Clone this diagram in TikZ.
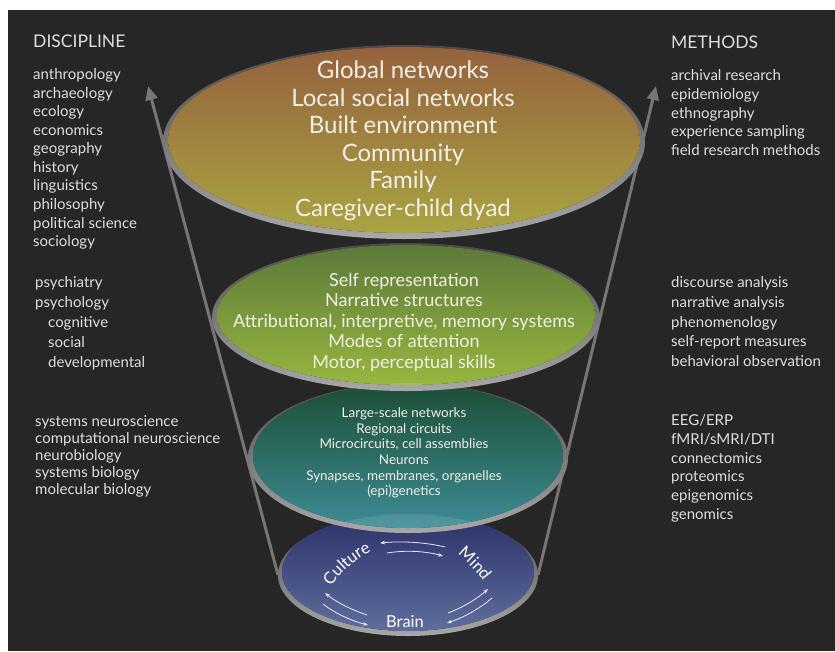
\documentclass[tikz,border=0pt]{standalone}
\usepackage{fontspec}
\setmainfont{Lato}
\usetikzlibrary{arrows.meta,decorations.text}

\definecolor{panel}{HTML}{262626}
\definecolor{label}{HTML}{DEDEDE}
\definecolor{inlabel}{HTML}{F2F0E8}
\definecolor{funnel}{HTML}{7A7575}
\definecolor{rimtop}{HTML}{4A4A4A}
\definecolor{rimbot}{HTML}{A8A8A8}
\definecolor{socA}{HTML}{95623D}
\definecolor{socB}{HTML}{A38A3C}
\definecolor{socC}{HTML}{AAA442}
\definecolor{mindA}{HTML}{5C7A39}
\definecolor{mindB}{HTML}{7E9E3A}
\definecolor{mindC}{HTML}{98B63E}
\definecolor{brainA}{HTML}{1D4E36}
\definecolor{brainB}{HTML}{2B6D5A}
\definecolor{brainC}{HTML}{3E8C96}
\definecolor{coreA}{HTML}{2C3068}
\definecolor{coreB}{HTML}{4A5A8E}
\definecolor{coreC}{HTML}{5E6E9C}

\tikzset{
  heading/.style={text=label, font=\fontsize{17.5}{19}\selectfont, anchor=base west, inner sep=0pt},
  listing/.style={text=label, anchor=north west, inner sep=0pt, align=left},
  levels/.style={text=inlabel, align=center, inner sep=0pt},
  funnelarrow/.style={draw=funnel, line width=3pt, -{Triangle[length=14pt,width=12pt]}},
  rim/.style={even odd rule, top color=rimtop, bottom color=rimbot},
  cycle/.style={draw=white!92!blue, line width=0.8pt, -{Stealth[length=5pt,width=3.6pt]}},
  ringword/.style={text=white, font=\fontsize{16.5}{16.5}\selectfont, inner sep=0pt},
}

\begin{document}
\begin{tikzpicture}[x=1pt,y=-1pt]
\useasboundingbox (0,0) rectangle (835,651);
\fill[white] (0,0) rectangle (835,651);
\fill[panel] (8,10) rectangle (835,651);

% funnel sides
\coordinate (lbase) at (278,575);
\coordinate (ltip)  at (148,86);
\coordinate (rbase) at (538,575);
\coordinate (rtip)  at (656,86);
\draw[funnelarrow] (lbase) -- (ltip);
\draw[funnelarrow] (rbase) -- (rtip);

% bottom disc: brain-mind-culture
\shade[rim] (408,575) ellipse [x radius=130pt, y radius=61pt]
            (408,572) ellipse [x radius=126pt, y radius=59pt];
\shade[top color=coreA, middle color=coreB, bottom color=coreC]
      (408,572) ellipse [x radius=126pt, y radius=59pt];

% neural disc
\shade[rim] (408,458) ellipse [x radius=160pt, y radius=75pt]
            (408,456) ellipse [x radius=155pt, y radius=72pt];
\shade[top color=brainA, middle color=brainB, bottom color=brainC]
      (408,456) ellipse [x radius=155pt, y radius=72pt];
\begin{scope}
  \clip (408,456) ellipse [x radius=155pt, y radius=72pt];
  \fill[white, opacity=0.10] (408,575) ellipse [x radius=130pt, y radius=61pt];
\end{scope}

% psychological disc
\shade[rim] (406,317) ellipse [x radius=194pt, y radius=74pt]
            (406,315) ellipse [x radius=189pt, y radius=70pt];
\shade[top color=mindA, middle color=mindB, bottom color=mindC]
      (406,315) ellipse [x radius=189pt, y radius=70pt];
\begin{scope}
  \clip (406,315) ellipse [x radius=189pt, y radius=70pt];
  \fill[white, opacity=0.10] (408,458) ellipse [x radius=160pt, y radius=75pt];
\end{scope}

% social disc
\shade[rim] (404,142) ellipse [x radius=241pt, y radius=97pt]
            (404,140) ellipse [x radius=236pt, y radius=93pt];
\shade[top color=socA, middle color=socB, bottom color=socC]
      (404,140) ellipse [x radius=236pt, y radius=93pt];
\begin{scope}
  \clip (404,140) ellipse [x radius=236pt, y radius=93pt];
  \fill[white, opacity=0.10] (406,317) ellipse [x radius=194pt, y radius=74pt];
\end{scope}

% level labels
\node[levels, font=\fontsize{24}{27.5}\selectfont] (social) at (403,141)
  {Global networks\\Local social networks\\Built environment\\Community\\Family\\Caregiver-child dyad};
\node[levels, font=\fontsize{18}{20.5}\selectfont] (psych) at (404,322)
  {Self representation\\Narrative structures\\Attributional, interpretive, memory systems\\Modes of attention\\Motor, perceptual skills};
\node[levels, font=\fontsize{13.4}{15.6}\selectfont] (neural) at (404,453)
  {Large-scale networks\\Regional circuits\\Microcircuits, cell assemblies\\Neurons\\Synapses, membranes, organelles\\(epi)genetics};

% culture / mind / brain cycle
\path[decorate, decoration={text along path, text align=center,
      text={|\color{white}\fontsize{16.5}{16.5}\selectfont|Culture}}]
  (326,594) .. controls (337,574) and (359,555) .. (380,548);
\path[decorate, decoration={text along path, text align=center,
      text={|\color{white}\fontsize{16.5}{16.5}\selectfont|Mind}}]
  (451,549) .. controls (462,557) and (478,572) .. (488,588);
\node[ringword] (brain) at (405,622) {Brain};

\coordinate (cm1) at (445,547); \coordinate (cm2) at (380,543);
\coordinate (mc1) at (387,553); \coordinate (mc2) at (443,556);
\coordinate (bc1) at (367,615); \coordinate (bc2) at (325,593);
\coordinate (cb1) at (323,604); \coordinate (cb2) at (368,625);
\coordinate (bm1) at (448,613); \coordinate (bm2) at (488,589);
\coordinate (mb1) at (492,598); \coordinate (mb2) at (447,623);
\draw[cycle] (cm1) .. controls (425,542) and (400,541) .. (cm2);
\draw[cycle] (mc1) .. controls (405,550) and (425,551) .. (mc2);
\draw[cycle] (bc1) .. controls (352,610) and (336,602) .. (bc2);
\draw[cycle] (cb1) .. controls (336,614) and (352,621) .. (cb2);
\draw[cycle] (bm1) .. controls (464,607) and (478,598) .. (bm2);
\draw[cycle] (mb1) .. controls (478,610) and (462,618) .. (mb2);

% discipline column
\node[heading] (disc) at (33,47) {DISCIPLINE};
\node[listing, font=\fontsize{15}{18.56}\selectfont] (discA) at (33,68.3)
  {anthropology\\archaeology\\ecology\\economics\\geography\\history\\linguistics\\philosophy\\political science\\sociology};
\node[listing, font=\fontsize{15}{20}\selectfont] (discB) at (35,276.3)
  {psychiatry\\psychology\\\hspace*{13pt}cognitive\\\hspace*{13pt}social\\\hspace*{13pt}developmental};
\node[listing, font=\fontsize{15}{17}\selectfont] (discC) at (35,415.3)
  {systems neuroscience\\computational neuroscience\\neurobiology\\systems biology\\molecular biology};

% methods column
\node[heading] (meth) at (671,48) {METHODS};
\node[listing, font=\fontsize{15}{18.75}\selectfont] (methA) at (671,69.3)
  {archival research\\epidemiology\\ethnography\\experience sampling\\field research methods};
\node[listing, font=\fontsize{15}{19.75}\selectfont] (methB) at (671,276.3)
  {discourse analysis\\narrative analysis\\phenomenology\\self-report measures\\behavioral observation};
\node[listing, font=\fontsize{15}{18.8}\selectfont] (methC) at (671,414.3)
  {EEG/ERP\\fMRI/sMRI/DTI\\connectomics\\proteomics\\epigenomics\\genomics};
\end{tikzpicture}
\end{document}
